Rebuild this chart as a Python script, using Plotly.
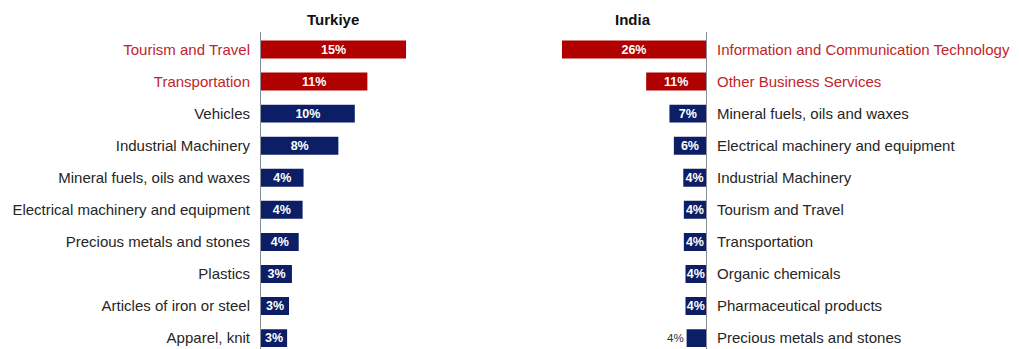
import plotly.graph_objects as go

# Top export sectors, share of total exports (%)
turkiye_sectors = [
    "Tourism and Travel",
    "Transportation",
    "Vehicles",
    "Industrial Machinery",
    "Mineral fuels, oils and waxes",
    "Electrical machinery and equipment",
    "Precious metals and stones",
    "Plastics",
    "Articles of iron or steel",
    "Apparel, knit",
]
turkiye_share = [15.0, 11.0, 9.7, 8.0, 4.4, 4.3, 3.9, 3.2, 2.9, 2.7]
turkiye_is_service = [True, True, False, False, False, False, False, False, False, False]

india_sectors = [
    "Information and Communication Technology",
    "Other Business Services",
    "Mineral fuels, oils and waxes",
    "Electrical machinery and equipment",
    "Industrial Machinery",
    "Tourism and Travel",
    "Transportation",
    "Organic chemicals",
    "Pharmaceutical products",
    "Precious metals and stones",
]
india_share = [26.0, 10.8, 6.6, 5.8, 4.1, 4.0, 4.0, 3.7, 3.7, 3.5]
india_is_service = [True, True, False, False, False, False, False, False, False, False]

SERVICE_BAR = "#b00000"
GOODS_BAR = "#0c1f66"
SERVICE_TEXT = "#c0252b"
GOODS_TEXT = "#262626"
AXIS_LINE = "#8a8f9a"
FONT = "Liberation Sans, Arial, sans-serif"

W, H = 1019, 349


def px_x(p):
    return p / W


def colored_labels(names, flags):
    out = []
    for n, s in zip(names, flags):
        c = SERVICE_TEXT if s else GOODS_TEXT
        out.append(f'<span style="color:{c}">{n}</span>')
    return out


def bar_trace(names, vals, flags, xa, ya, text_pos):
    return go.Bar(
        y=names,
        x=vals,
        orientation="h",
        marker=dict(color=[SERVICE_BAR if s else GOODS_BAR for s in flags], line=dict(width=0)),
        width=0.56,
        texttemplate="%{x:.0f}%",
        textposition=text_pos,
        insidetextanchor="middle",
        insidetextfont=dict(family=FONT, size=12.5, color="white", weight="bold"),
        outsidetextfont=dict(family=FONT, size=11.5, color="#333333"),
        constraintext="none",
        cliponaxis=False,
        xaxis=xa,
        yaxis=ya,
        hoverinfo="skip",
        showlegend=False,
    )


fig = go.Figure()
fig.add_trace(bar_trace(turkiye_sectors, turkiye_share, turkiye_is_service, "x", "y",
                        ["inside"] * len(turkiye_share)))
india_pos = ["inside"] * (len(india_share) - 1) + ["outside"]
fig.add_trace(bar_trace(india_sectors, india_share, india_is_service, "x2", "y2", india_pos))

# vertical layout: axis line starts at 32px, rows ~32px apart
top_px = 32
row_px = 32.07
first_center = 49.5
y_top_idx = -(first_center - top_px) / row_px
y_bot_idx = (H - first_center) / row_px
y_domain = [0, 1 - top_px / H]

tk_left, tk_right = 261, 261 + 9.67 * 16
in_right, in_left = 706, 706 - 5.54 * 27

yaxis_common = dict(
    type="category",
    range=[y_bot_idx, y_top_idx],
    domain=y_domain,
    showline=True,
    linecolor=AXIS_LINE,
    linewidth=1,
    showgrid=False,
    zeroline=False,
    ticks="",
    ticklabelstandoff=7,
    tickfont=dict(family=FONT, size=15, color=GOODS_TEXT),
    fixedrange=True,
)

fig.update_layout(
    width=W,
    height=H,
    margin=dict(l=0, r=0, t=0, b=0),
    paper_bgcolor="white",
    plot_bgcolor="white",
    bargap=0.44,
    xaxis=dict(domain=[px_x(tk_left), px_x(tk_right)], range=[0, 16], visible=False, fixedrange=True),
    yaxis=dict(anchor="x", side="left",
               tickmode="array", tickvals=turkiye_sectors,
               ticktext=colored_labels(turkiye_sectors, turkiye_is_service),
               **yaxis_common),
    xaxis2=dict(domain=[px_x(in_left), px_x(in_right)], range=[27, 0], visible=False, fixedrange=True),
    yaxis2=dict(anchor="x2", side="right",
                tickmode="array", tickvals=india_sectors,
                ticktext=colored_labels(india_sectors, india_is_service),
                **yaxis_common),
    annotations=[
        dict(text="<b>Turkiye</b>", x=px_x(333), y=1 - 19 / H, xref="paper", yref="paper",
             xanchor="center", yanchor="middle", showarrow=False,
             font=dict(family=FONT, size=15, color="#111111")),
        dict(text="<b>India</b>", x=px_x(633), y=1 - 19 / H, xref="paper", yref="paper",
             xanchor="center", yanchor="middle", showarrow=False,
             font=dict(family=FONT, size=15, color="#111111")),
    ],
)

fig.write_html("out.html")
